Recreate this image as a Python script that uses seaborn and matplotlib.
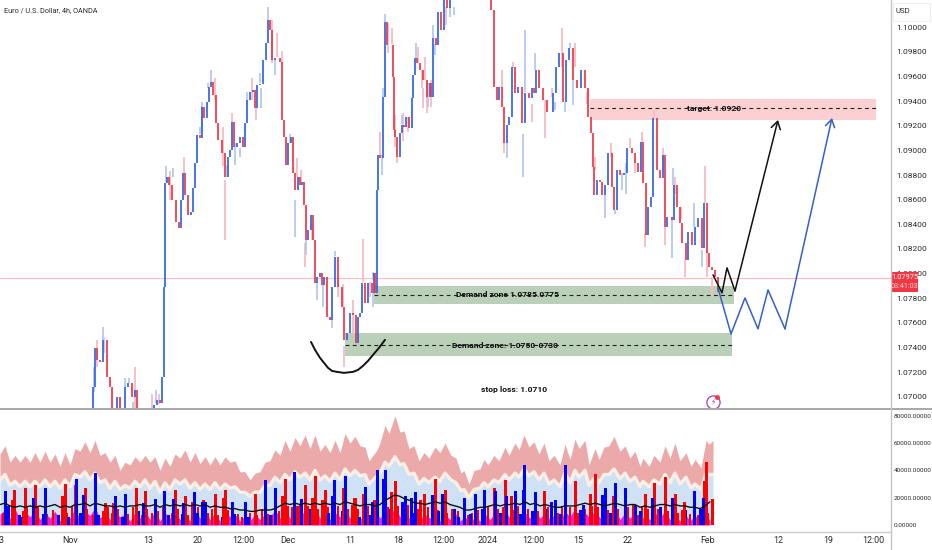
import numpy as np
import pandas as pd
import matplotlib
matplotlib.use("Agg")
import matplotlib.pyplot as plt
from matplotlib.patches import Rectangle
from matplotlib.lines import Line2D
import seaborn as sns

# ── Candles: time on an arbitrary session scale, close price, open = previous close ──
bar_t = [93,95,97,100,103,107,110,112,116,117,120,123,125,128,132,135,137,140,145,150,154,157,160,162,164,
         165,167,169,172,176,179,181,183,185,188,191,193,195,197,200,202,204,207,209,211,213,216,218,222,225,
         228,230,232,234,237,240,243,245,247,250,253,255,257,260,263,266,268,270,272,275,277,280,282,284,286,
         288,291,293,295,298,300,302,304,306,308,311,313,315,317,320,322,324,327,330,332,335,338,342,344,347,
         350,353,356,358,360,362,365,368,372,374,375,377,378,380,383,385,387,390,393,394,395,397,400,402,404,
         406,409,412,413,415,417,420,423,427,430,431,433,436,438,441,444,447,450,453,456,460,465,470,475,480,
         485,488,491,494,497,499,502,504,507,509,512,515,518,522,525,529,532,534,536,539,543,547,550,553,556,
         559,563,566,569,573,577,581,585,588,591,593,594,597,600,602,605,608,612,614,617,620,624,627,632,635,
         638,641,643,646,648,651,653,657,660,663,665,667,672,674,677,680,682,686,688,692,695,698,702,704,707,
         709,712,715,718]
close = [1.07081,1.07398,1.07300,1.07284,1.07463,1.07163,1.07081,1.06895,1.06814,1.07000,1.06895,1.06879,1.07081,1.07114,1.07000,1.07057,1.06895,1.06854,1.06814,1.06879,1.06935,1.06976,1.06952,1.07163,1.07892,
         1.08736,1.08785,1.08720,1.08598,1.08420,1.08371,1.08598,1.08817,1.08639,1.08476,1.08501,1.08695,1.08898,1.09125,1.09101,1.09352,1.09263,1.09393,1.09514,1.09555,1.09450,1.09222,1.09085,1.08979,1.08785,
         1.08947,1.09003,1.09231,1.09028,1.09060,1.09109,1.09028,1.09222,1.09409,1.09474,1.09490,1.09344,1.09531,1.09539,1.09733,1.09871,1.10058,1.09977,1.09733,1.09750,1.09750,1.09717,1.09247,1.09109,1.08882,
         1.09060,1.09109,1.08817,1.08679,1.08785,1.08720,1.08744,1.08557,1.08274,1.08355,1.08476,1.08274,1.07925,1.07974,1.08006,1.07909,1.07974,1.07649,1.07625,1.07892,1.08136,1.07892,1.07730,1.07463,1.07519,
         1.07682,1.07665,1.07438,1.07649,1.07682,1.07925,1.07763,1.07925,1.07844,1.08006,1.07844,1.08679,1.08963,1.08939,1.09433,1.10042,1.09855,1.09855,1.09596,1.09166,1.09109,1.08947,1.09141,1.09206,1.09190,
         1.09271,1.09182,1.09425,1.09612,1.09750,1.09709,1.09652,1.09571,1.09433,1.09547,1.09433,1.09912,1.09855,1.10123,1.09977,1.10220,1.10155,1.10220,1.10285,1.10342,1.10423,1.10463,1.10423,1.10447,1.10382,
         1.10301,1.10244,1.10139,1.09514,1.09409,1.09514,1.09352,1.09060,1.09206,1.09271,1.09677,1.09466,1.09514,1.09222,1.09466,1.09425,1.09506,1.09466,1.09652,1.09506,1.09409,1.09312,1.09312,1.09466,1.09677,
         1.09790,1.09393,1.09733,1.09831,1.09571,1.09506,1.09652,1.09506,1.09271,1.09141,1.08866,1.08639,1.08760,1.08744,1.08639,1.08720,1.08979,1.08703,1.08517,1.08841,1.08801,1.08817,1.09020,1.08979,1.08898,
         1.08825,1.09068,1.08736,1.08314,1.08541,1.08622,1.09263,1.08841,1.08776,1.08963,1.08379,1.08460,1.08436,1.08720,1.08541,1.08411,1.08249,1.08111,1.08338,1.08233,1.08379,1.08452,1.08209,1.08574,1.08168,
         1.08055,1.08030,1.07974,1.07852]
first_open = 1.06814

red_wick_t = [97,104,120,135,152,159,170,184,215,223,225,232,252,256,272,277,282,297,301,305,312,338,343,344,353,363,370,380,388,392,395,397,403,408,418,422,423,425,427,431,446,502,504,513,532,545,552,562,575,587,595,611,630,635,642,645,654,663,665,675,681,685,705,707,712]
red_wick_hi = [1.0746,1.0749,1.0700,1.0724,1.0702,1.0702,1.0883,1.0895,1.0959,1.0919,1.0876,1.0930,1.0959,1.0934,1.1006,1.0995,1.0981,1.0894,1.0884,1.0825,1.0841,1.0797,1.0792,1.0741,1.0779,1.0828,1.0793,1.0915,1.1003,1.0999,1.0929,1.0895,1.0930,1.0927,1.0984,1.0965,1.0951,1.0976,1.0957,1.0957,1.1016,1.0965,1.0906,1.0972,1.0938,1.0941,1.0951,1.0999,1.0987,1.0947,1.0895,1.0906,1.0910,1.0890,1.0915,1.0833,1.0933,1.0902,1.0838,1.0878,1.0854,1.0811,1.0887,1.0819,1.0797]
red_wick_lo = [1.0724,1.0736,1.0689,1.0689,1.0689,1.0694,1.0860,1.0882,1.0941,1.0887,1.0827,1.0923,1.0941,1.0925,1.0971,1.0976,1.0971,1.0878,1.0874,1.0805,1.0827,1.0781,1.0773,1.0724,1.0752,1.0793,1.0781,1.0896,1.0979,1.0986,1.0903,1.0890,1.0908,1.0915,1.0971,1.0951,1.0934,1.0957,1.0930,1.0935,1.1002,1.0951,1.0898,1.0967,1.0923,1.0910,1.0943,1.0968,1.0968,1.0938,1.0884,1.0895,1.0902,1.0882,1.0907,1.0822,1.0926,1.0884,1.0823,1.0865,1.0844,1.0797,1.0857,1.0797,1.0781]

blue_wick_t = [94,103,125,129,133,156,166,173,200,202,208,211,227,235,240,247,260,261,268,275,290,295,306,317,323,332,335,373,373,382,383,385,402,416,428,433,435,450,454,507,525,523,535,555,565,570,573,605,615,622,626,672,673,694,702]
blue_wick_hi = [1.0724,1.0757,1.0715,1.0715,1.0696,1.0706,1.0887,1.0886,1.0919,1.0939,1.0955,1.0965,1.0888,1.0906,1.0902,1.0947,1.0963,1.0951,1.1016,1.0973,1.0913,1.0860,1.0827,1.0793,1.0791,1.0762,1.0818,1.0801,1.0784,1.0896,1.0951,1.1011,1.0929,1.0987,1.0955,1.1002,1.0986,1.1016,1.1016,1.0906,1.0998,1.0913,1.0979,1.0939,1.0939,1.0987,1.0957,1.0864,1.0852,1.0882,1.0890,1.0846,1.0886,1.0857,1.0819]
blue_wick_lo = [1.0704,1.0746,1.0708,1.0711,1.0689,1.0695,1.0874,1.0878,1.0913,1.0919,1.0951,1.0955,1.0878,1.0888,1.0895,1.0939,1.0955,1.0934,1.1006,1.0961,1.0906,1.0830,1.0815,1.0779,1.0773,1.0756,1.0814,1.0795,1.0773,1.0880,1.0943,1.1004,1.0921,1.0975,1.0935,1.0991,1.0977,1.1008,1.1010,1.0894,1.0947,1.0878,1.0965,1.0933,1.0931,1.0983,1.0937,1.0845,1.0848,1.0868,1.0865,1.0813,1.0872,1.0838,1.0805]

# ── Drawn annotations ────────────────────────────────────────────────────────────
last_price = 1.07965
arc_t = [311,315,320,328,332,337,344,353,358,363,368,373,379,385]
arc_p = [1.07446,1.07382,1.07317,1.07236,1.07211,1.07203,1.07195,1.07203,1.07219,1.07252,1.07292,1.07341,1.07398,1.07463]
black_t = [713,722,727,735,778]
black_p = [1.07990,1.07844,1.08047,1.07860,1.09247]
blue_t = [718,731,745,758,768,785,832]
blue_p = [1.07884,1.07511,1.07803,1.07552,1.07868,1.07552,1.09263]
target_zone = (590, 876, 1.0942, 1.0925, 1.0934)
demand_upper = (374, 734, 1.0790, 1.0775, 1.0783)
demand_lower = (345, 732, 1.0752, 1.0733, 1.0742)

# ── Lower panel, values in thousands ─────────────────────────────────────────────
env_t = [0,5,10,15,20,25,30,35,40,45,50,55,60,65,70,75,80,85,90,95,100,105,110,115,120,125,130,135,140,145,150,155,160,165,170,175,180,
         185,190,195,200,205,210,215,220,225,230,235,240,245,250,255,260,265,270,275,280,285,290,295,300,305,310,315,320,325,330,335,340,345,350,355,360,
         365,369,377,380,385,389,395,400,404,409,414,419,424,429,435,440,445,451,456,461,464,469,474,480,484,488,494,499,505,509,515,519,524,529,534,539,
         544,549,554,560,565,570,575,579,585,589,595,599,604,609,614,620,625,630,635,640,643,649,654,660,665,670,675,680,686,691,695,701,706,709,713]
env_top = [52,58,46,51,46,51,46,53,46,54,46,52,43,53,44,56,54,61,53,62,51,53,46,51,40,46,44,50,46,51,46,50,40,49,43,52,49,
           55,46,53,45,50,44,50,44,50,46,47,39,39,33,38,39,46,47,55,51,62,54,64,58,66,56,66,54,59,53,62,53,67,60,65,58,
           57,47,55,60,73,67,80,68,69,56,58,47,53,49,57,53,60,51,49,38,40,30,40,41,48,44,51,47,57,51,60,55,66,57,61,52,
           60,47,51,44,59,48,63,56,62,44,56,48,57,58,65,54,58,49,54,43,49,43,51,46,58,49,60,47,53,43,48,42,62,59,62]
env_mid = [33,37,29,32,28,32,28,32,28,33,28,32,27,33,28,37,35,39,33,38,31,33,27,32,26,29,27,32,28,33,27,32,24,31,26,33,30,
           33,27,31,26,30,26,31,26,30,27,28,24,24,21,24,24,29,29,35,31,37,33,39,35,38,33,40,33,36,32,38,33,41,36,40,36,
           37,30,36,38,46,43,50,44,45,37,38,30,34,31,35,32,38,33,31,25,26,20,26,27,31,28,33,31,37,33,38,35,41,36,39,33,
           38,30,33,28,38,31,40,35,40,29,35,31,37,37,41,34,38,32,35,28,32,28,33,30,37,31,38,30,35,27,30,26,38,37,37]

vol_t = np.arange(0, 715, 5)
magenta = [8,11,5,12,4,10,6,11,4,9, 5,10,3,9,5,12,4,10,7,13, 5,10,4,9,6,8,3,9,5,11, 4,10,3,9,5,10,4,8,3,10,
           5,11,4,9,3,10,6,8,3,7, 3,8,4,8,6,11,5,12,5,13, 6,11,7,13,5,10,4,9,6,12, 5,10,4,8,6,11,5,10,7,13,
           6,10,4,9,4,8,5,9,3,8, 4,9,3,6,2,6,3,8,4,9, 4,10,5,11,4,9,5,11,5,9, 4,8,3,10,6,12,4,9,5,11,
           5,10,6,12,4,9,5,10,3,7, 4,9,5,11,4,8,3,8,3,7, 3,9,3]
avg_line = [15,16,14,13,14,13,14,13,14,13, 14,15,13,14,13,15,15,16,14,16, 15,14,14,13,14,13,14,14,15,14, 14,15,13,15,14,15,14,15,14,15,
            14,15,13,14,13,13,12,12,11,11, 10,10,11,11,11,12,14,16,15,16, 15,16,15,16,15,16,15,16,15,17, 16,15,14,15,15,14,15,18,20,22,
            21,19,18,16,16,15,16,17,16,17, 15,14,13,11,11,12,13,13,14,15, 14,15,15,16,15,17,15,16,14,15, 14,13,13,14,14,14,15,16,15,16,
            15,14,15,16,15,14,15,15,13,14, 13,14,15,15,14,15,14,14,13,13, 12,14,17]

red_low_t = [3,12,23,27,33,38,47,53,62,67,72,82,87,93,103,108,112,118,128,133,142,147,152,158,163,172,178,188,192,198,208,212,218,228,238,242,250,257,262,268,272,279,288,292,300,308,318,328,334,338,348,352,358,368,378,388,398,408,412,418,428,438,447,452,458,468,472,478,488,498,503,513,518,528,538,548,558,562,570,578,585,592,598,608,618,628,638,642,648,658,668,678,682,690,698,708]
red_low_v = [9,12,10,14,9,13,8,11,10,9,14,8,12,7,10,13,9,12,8,13,
             7,12,9,10,13,9,12,7,10,13,9,12,7,11,8,6,9,7,12,8,
             7,10,14,13,15,14,12,13,9,14,12,15,12,14,15,13,14,15,9,12,
             13,11,9,12,10,7,9,11,13,12,13,11,14,12,10,13,9,14,13,9,
             12,14,13,11,12,13,7,14,12,12,10,9,11,8,7,9]
blue_low_t = [8,20,43,58,68,80,98,122,138,168,182,197,222,234,248,270,295,310,328,342,370,390,412,438,458,470,482,500,520,532,545,560,580,610,640,660,685,700]
blue_low_v = [14,6,8,7,6,9,7,6,10,7,8,9,6,8,6,7,8,12,9,10,7,12,9,10,6,8,12,9,8,10,12,8,11,9,10,13,11,12]

blue_spike_t = [5,19,33,45,76,83,95,115,125,143,155,164,173,183,194,202,205,232,245,265,275,294,301,332,334,345,359,365,372,377,383,385,402,405,411,415,432,442,454,464,475,484,495,506,515,523,524,535,551,555,565,583,602,605,615,625,635,652,672,694,703]
blue_spike_v = [25,7,20,27,34,22,38,21,23,16,19,25,19,16,24,17,17,17,17,33,27,39,19,21,33,36,6,28,17,40,34,40,17,21,20,24,22,23,12,20,23,26,25,21,25,26,44,24,17,18,44,15,22,27,31,27,15,20,20,25,20]
red_spike_t = [12,14,25,35,62,65,75,85,105,113,136,145,175,185,192,203,215,223,225,255,282,285,297,305,312,315,322,325,343,354,355,363,374,391,395,420,424,435,445,494,505,511,544,575,590,595,613,633,645,654,665,675,684,704,706,712]
red_spike_v = [18,26,27,29,21,30,29,27,16,16,27,25,26,21,17,18,23,20,26,23,21,34,14,29,20,36,18,26,27,20,20,23,18,24,32,18,23,34,26,27,33,21,25,32,23,37,21,15,23,31,35,23,17,32,46,19]

# ── Axis labels ──────────────────────────────────────────────────────────────────
tick_t = [1,70,148,198,243,288,350,398,443,488,533,578,628,708,778,828,873]
tick_names = ["3","Nov","13","20","12:00","Dec","11","18","12:00","2024","12:00","15","22","Feb","12","19","12:00"]
price_ticks = [1.10,1.098,1.096,1.094,1.092,1.09,1.088,1.086,1.084,1.082,1.08,1.078,1.076,1.074,1.072,1.07]
vol_ticks = [0,20,40,60,80]

# ── Style ────────────────────────────────────────────────────────────────────────
sns.set_theme(style="white")
NARROW = ["Liberation Sans Narrow", "Roboto", "DejaVu Sans"]
plt.rcParams["font.family"] = ["Open Sans", "DejaVu Sans"]

UP, DOWN = "#2b62e3", "#ee3344"
UP_WICK, DOWN_WICK = "#b4c8f2", "#f6bcc2"
TXT = "#2b2b2b"
W, H = 932, 550

fig = plt.figure(figsize=(W / 100, H / 100), dpi=100)
ax = fig.add_axes([0, (H - 408) / H, 891 / W, 408 / H])
ax2 = fig.add_axes([0, (H - 532) / H, 891 / W, 122 / H])

# ── Price panel ──────────────────────────────────────────────────────────────────
df = pd.DataFrame({"t": bar_t, "close": close})
df["open"] = df["close"].shift(1).fillna(first_open)
df["low_body"] = df[["open", "close"]].min(axis=1)
df["size"] = (df["close"] - df["open"]).abs()
df["color"] = np.where(df["close"] >= df["open"], UP, DOWN)

ax.vlines(red_wick_t, red_wick_lo, red_wick_hi, color=DOWN_WICK, lw=1.3, zorder=1)
ax.vlines(blue_wick_t, blue_wick_lo, blue_wick_hi, color=UP_WICK, lw=1.3, zorder=1)
ax.bar(df["t"], df["size"], bottom=df["low_body"], width=2.7, color=df["color"], alpha=0.85, zorder=2, lw=0)

ax.axhline(last_price, color="#f8c0c6", lw=0.9, zorder=1)

for (x0, x1, top, bottom, mid), col in [(target_zone, "#fbd0d3"), (demand_upper, "#bad0b8"), (demand_lower, "#bad0b8")]:
    ax.add_patch(Rectangle((x0, bottom), x1 - x0, top - bottom, color=col, lw=0, zorder=0.5))
    ax.plot([x0, x1], [mid, mid], color="#222222", lw=0.8, ls=(0, (3.5, 3)), zorder=3)

label_kw = dict(ha="center", va="center", fontsize=6.1, fontweight="bold", color="#111111", zorder=4,
                family=["Roboto", "DejaVu Sans"])
ax.text(714, target_zone[4], "target: 1.0920", **label_kw)
ax.text(507, demand_upper[4], "Demand zone 1.0785.0775", **label_kw)
ax.text(505, demand_lower[4], "Demand zone: 1.0750-0730", **label_kw)
ax.text(514, 1.0706, "stop loss: 1.0710", **label_kw)

sns.lineplot(x=arc_t, y=arc_p, ax=ax, color="#111111", lw=1.4, zorder=5)
sns.lineplot(x=black_t[:-1], y=black_p[:-1], ax=ax, color="#111111", lw=1.1, sort=False, zorder=5)
sns.lineplot(x=blue_t[:-1], y=blue_p[:-1], ax=ax, color="#3560c4", lw=1.1, sort=False, zorder=5)
ax.annotate("", xy=(black_t[-1], black_p[-1]), xytext=(black_t[-2], black_p[-2]), zorder=5,
            arrowprops=dict(arrowstyle="->,head_length=0.45,head_width=0.28", color="#111111", lw=1.1, shrinkA=0, shrinkB=0))
ax.annotate("", xy=(blue_t[-1], blue_p[-1]), xytext=(blue_t[-2], blue_p[-2]), zorder=5,
            arrowprops=dict(arrowstyle="->,head_length=0.45,head_width=0.28", color="#3560c4", lw=1.1, shrinkA=0, shrinkB=0))

# lightning badge
ax.plot([713], [1.0696], "o", ms=9.5, mfc="white", mec="#a43cc0", mew=0.9, zorder=6)
ax.text(713, 1.0696, "\u26a1", fontsize=5.5, color="#a43cc0", ha="center", va="center", zorder=7, family=["DejaVu Sans"])
ax.plot([717], [1.0700], "o", ms=2.5, color="#f23645", zorder=7)

ax.set_xlim(0, 891)
ax.set_ylim(1.0691, 1.1022)
ax.set_xticks([])
ax.yaxis.tick_right()
ax.set_yticks(price_ticks)
ax.set_yticklabels([f"{p:.5f}" for p in price_ticks], family=NARROW)
ax.tick_params(axis="y", length=0, pad=4, labelsize=6.0, labelcolor=TXT)
ax.set_xlabel("")
ax.set_ylabel("")
sns.despine(ax=ax, left=True, top=True, right=True, bottom=True)

# ── Volume panel ─────────────────────────────────────────────────────────────────
ax2.fill_between(env_t, env_mid, env_top, color="#eba9a9", lw=0, zorder=1)
ax2.fill_between(env_t, 0, env_mid, color="#cfe2f5", lw=0, zorder=1)
sns.lineplot(x=env_t, y=env_mid, ax=ax2, color="#fbefe6", lw=2.4, zorder=2)
ax2.fill_between(vol_t, 0, magenta, color="#e81fd2", lw=0, zorder=3)
ax2.bar(red_low_t, red_low_v, width=2.8, color="#ff0000", lw=0, zorder=4)
ax2.bar(blue_low_t, blue_low_v, width=3, color="#0000ff", lw=0, zorder=4)
ax2.bar(red_spike_t, red_spike_v, width=3, color="#ff0000", lw=0, zorder=5)
ax2.bar(blue_spike_t, blue_spike_v, width=3, color="#0000ff", lw=0, zorder=5)
sns.lineplot(x=vol_t, y=avg_line, ax=ax2, color="#111111", lw=1.0, zorder=6)

ax2.set_xlim(0, 891)
ax2.set_ylim(-5.1, 84.2)
ax2.set_xticks(tick_t)
ax2.set_xticklabels(tick_names, family=NARROW)
ax2.yaxis.tick_right()
ax2.set_yticks(vol_ticks)
ax2.set_yticklabels([f"{v * 1000:.5f}" for v in vol_ticks], family=NARROW)
ax2.tick_params(axis="y", length=0, pad=2, labelsize=4.6, labelcolor=TXT)
ax2.tick_params(axis="x", length=0, pad=3, labelsize=6.4, labelcolor=TXT)
ax2.set_xlabel("")
ax2.set_ylabel("")
sns.despine(ax=ax2, left=True, top=True, right=True, bottom=True)

# ── Frame, header, last price tag ────────────────────────────────────────────────
fig.add_artist(Line2D([0, 1], [(H - 409) / H] * 2, color="#a8a8a8", lw=1.4))
fig.add_artist(Line2D([0, 891 / W], [(H - 532) / H] * 2, color="#cdcdcd", lw=1))
fig.add_artist(Line2D([891 / W] * 2, [0, 1], color="#c4c4c4", lw=1))

fig.text(4 / W, 1 - 11 / H, "Euro / U.S. Dollar, 4h, OANDA", fontsize=5.2, color=TXT, va="center", family=NARROW)
fig.add_artist(Rectangle((893 / W, 1 - 21 / H), 37 / W, 18 / H, transform=fig.transFigure, fc="white", ec="#eeeeee", lw=0.8))
fig.text(896 / W, 1 - 11 / H, "USD", fontsize=5.6, color=TXT, va="center", family=NARROW)
fig.add_artist(Rectangle((891 / W, 1 - 292 / H), 27 / W, 20 / H, transform=fig.transFigure, color="#f23645", lw=0))
fig.text(904.5 / W, 1 - 277.5 / H, "1.07975", fontsize=5.4, color="white", ha="center", va="center", family=NARROW)
fig.text(904.5 / W, 1 - 287 / H, "03:41:03", fontsize=5.2, color="#ffd9dc", ha="center", va="center", family=NARROW)

plt.savefig("out.png", dpi=100)
